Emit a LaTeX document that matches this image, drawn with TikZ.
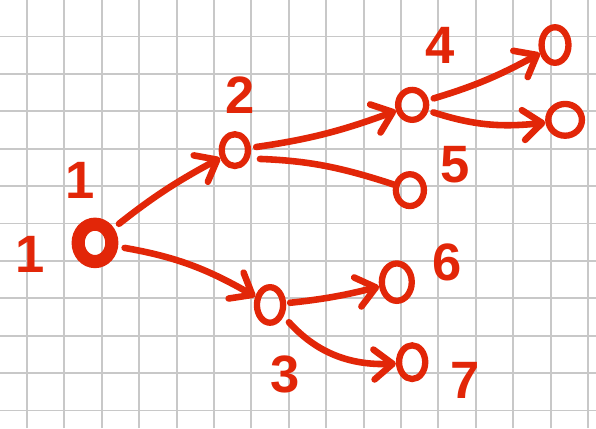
\documentclass[tikz,border=0pt]{standalone}
\usepackage{fontspec}
\setmainfont{Liberation Sans}
\usetikzlibrary{arrows.meta,shapes.geometric}
\definecolor{ink}{RGB}{226,38,8}
\definecolor{paper}{RGB}{200,200,200}
\begin{document}
\begin{tikzpicture}[
        vertex/.style={draw=ink, ellipse, line width=4.8pt, minimum width=0.7cm, minimum height=0.85cm, inner sep=0pt},
        root/.style={vertex, line width=10pt, minimum width=0.9cm, minimum height=1cm},
        num/.style={text=ink, font=\fontsize{40}{40}\selectfont\bfseries, inner sep=0pt},
        edge/.style={draw=ink, line width=5pt, line cap=round, line join=round},
        arc/.style={edge, -{Straight Barb[length=5mm, width=8mm, line cap=round, line join=round]}}
    ]
    \useasboundingbox (0,0) rectangle (15.936,11.444);
    \fill[white] (0,0) rectangle (15.936,11.444);

    % Squared paper
    \foreach \k in {0,...,15} \draw[paper, line width=1.4pt] (0.722+\k,0) -- (0.722+\k,11.444);
    \foreach \k in {0,...,10} \draw[paper, line width=1.4pt] (0,0.47+\k) -- (15.936,0.47+\k);

    % Vertices
    \node[root] (v1) at (2.54,4.95) {};
    \node[vertex] (v2) at (6.28,7.43) {};
    \node[vertex, minimum height=0.95cm] (v3) at (7.22,3.29) {};
    \node[vertex, minimum width=0.75cm, minimum height=0.8cm] (v4) at (11.02,8.64) {};
    \node[vertex, minimum width=0.75cm] (v5) at (10.96,6.36) {};
    \node[vertex, minimum width=0.8cm, minimum height=1cm] (v6) at (10.61,3.90) {};
    \node[vertex, minimum height=0.9cm] (v7) at (11.02,1.76) {};
    \node[vertex, minimum width=0.72cm, minimum height=0.95cm] (w1) at (14.84,10.24) {};
    \node[vertex, minimum width=0.9cm, minimum height=0.85cm] (w2) at (15.11,8.24) {};

    % Numbers
    \node[num] (n1a) at (2.14,6.63) {1};
    \node[num] (n1b) at (0.80,4.63) {1};
    \node[num] (n2) at (6.42,8.90) {2};
    \node[num] (n3) at (7.62,1.42) {3};
    \node[num] (n4) at (11.76,10.24) {4};
    \node[num] (n5) at (12.17,7.03) {5};
    \node[num] (n6) at (11.95,4.44) {6};
    \node[num] (n7) at (12.43,1.28) {7};

    % Arrows
    \draw[arc, shorten <=5pt] (v1) to[bend left=5] (v2);
    \draw[arc, shorten <=5pt] (v1) to[bend left=10] (v3);
    \draw[arc, shorten <=4pt] (v2) to[bend right=6] (v4);
    \draw[edge, shorten <=8pt] (v2.-30) to[bend left=8] (v5);
    \draw[arc, shorten <=4pt] (v4) to[bend right=6] (w1);
    \draw[arc, shorten <=4pt] (v4.-20) to[bend right=12] (w2);
    \draw[arc, shorten <=3pt] (v3) to[bend right=4] (v6);
    \draw[arc, shorten <=6pt] (v3.-40) to[bend right=25] (v7);
\end{tikzpicture}
\end{document}
